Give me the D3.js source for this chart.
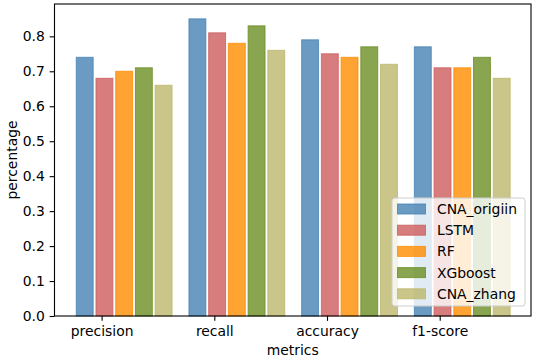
<!DOCTYPE html>
<html>
<head>
<meta charset="utf-8">
<script src="https://cdn.jsdelivr.net/npm/d3@7"></script>
<style>
  body { margin: 0; background: #fff; }
  text { font-family: "DejaVu Sans", sans-serif; }
</style>
</head>
<body>
<div id="chart"></div>
<script>
const categories = ["precision", "recall", "accuracy", "f1-score"];
const seriesNames = ["CNA_origiin", "LSTM", "RF", "XGboost", "CNA_zhang"];
const cnaOrigiin = [0.74, 0.85, 0.79, 0.77];
const lstm = [0.68, 0.81, 0.75, 0.71];
const rf = [0.70, 0.78, 0.74, 0.71];
const xgboost = [0.71, 0.83, 0.77, 0.74];
const cnaZhang = [0.66, 0.76, 0.72, 0.68];
const yTicks = [0.0, 0.1, 0.2, 0.3, 0.4, 0.5, 0.6, 0.7, 0.8];

const series = [cnaOrigiin, lstm, rf, xgboost, cnaZhang];
const colors = ["#4682b4", "#cd5c5c", "#ff8c00", "#6b8e23", "#bdb76b"];

const W = 536, H = 360;
const margin = { left: 54.5, right: 531, top: 4, bottom: 316 };
const fs = 13.9;
const tickLen = 4.86;

const svg = d3.select("#chart").append("svg")
    .attr("width", W)
    .attr("height", H);

// scales: group index on x, bars offset inside each group
const x = d3.scaleLinear().domain([-0.418, 3.81]).range([margin.left, margin.right]);
const y = d3.scaleLinear().domain([0, 0.8925]).range([margin.bottom, margin.top]);
const barW = 0.15, step = 0.175, offset = -0.15;

// bars
series.forEach((vals, j) => {
    svg.append("g").selectAll("rect")
        .data(vals)
        .join("rect")
        .attr("x", (d, i) => x(i + offset + j * step - barW / 2))
        .attr("width", x(barW) - x(0))
        .attr("y", d => y(d))
        .attr("height", d => y(0) - y(d))
        .attr("fill", colors[j])
        .attr("fill-opacity", 0.8)
        .attr("stroke", colors[j])
        .attr("stroke-opacity", 0.8)
        .attr("stroke-width", 1);
});

// axes
const xAxis = svg.append("g")
    .attr("transform", `translate(0,${margin.bottom})`)
    .call(d3.axisBottom(x)
        .tickValues(d3.range(categories.length))
        .tickFormat(i => categories[i])
        .tickSize(tickLen).tickPadding(tickLen).tickSizeOuter(0));
const yAxis = svg.append("g")
    .attr("transform", `translate(${margin.left},0)`)
    .call(d3.axisLeft(y)
        .tickValues(yTicks)
        .tickFormat(d3.format(".1f"))
        .tickSize(tickLen).tickPadding(tickLen).tickSizeOuter(0));

[xAxis, yAxis].forEach(g => {
    g.select(".domain").remove();
    g.selectAll("line").attr("stroke", "#000").attr("stroke-width", 1.1);
    g.selectAll("text").attr("font-size", fs).attr("fill", "#000")
        .style("font-family", "'DejaVu Sans', sans-serif");
});

// frame
svg.append("rect")
    .attr("x", margin.left).attr("y", margin.top)
    .attr("width", margin.right - margin.left).attr("height", margin.bottom - margin.top)
    .attr("fill", "none").attr("stroke", "#000").attr("stroke-width", 1.1);

// axis titles
svg.append("text")
    .attr("x", (margin.left + margin.right) / 2).attr("y", 355)
    .attr("text-anchor", "middle").attr("font-size", fs)
    .text("metrics");
svg.append("text")
    .attr("transform", `translate(16.5,${(margin.top + margin.bottom) / 2}) rotate(-90)`)
    .attr("text-anchor", "middle").attr("font-size", fs)
    .text("percentage");

// legend
const lg = svg.append("g");
lg.append("rect")
    .attr("x", 392).attr("y", 198)
    .attr("width", 133).attr("height", 108)
    .attr("rx", 2.8)
    .attr("fill", "#fff").attr("fill-opacity", 0.8)
    .attr("stroke", "#ccc").attr("stroke-width", 1);
seriesNames.forEach((name, j) => {
    const cy = 209 + j * 21.2;
    lg.append("rect")
        .attr("x", 397.5).attr("y", cy - 5)
        .attr("width", 28).attr("height", 10)
        .attr("fill", colors[j]).attr("fill-opacity", 0.8)
        .attr("stroke", colors[j]).attr("stroke-opacity", 0.8);
    lg.append("text")
        .attr("x", 437).attr("y", cy + 5)
        .attr("font-size", fs)
        .text(name);
});
</script>
</body>
</html>
